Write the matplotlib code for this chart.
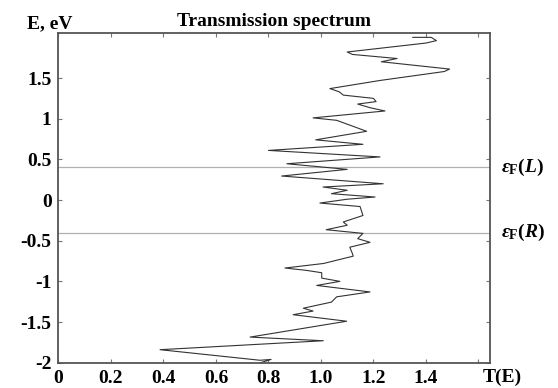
import numpy as np
import matplotlib.pyplot as plt

plt.rcParams['font.family'] = 'Liberation Serif'
plt.rcParams['font.weight'] = 'bold'
plt.rcParams['mathtext.fontset'] = 'custom'
plt.rcParams['mathtext.rm'] = 'Liberation Serif:bold'
plt.rcParams['mathtext.it'] = 'Liberation Serif:italic:bold'

# energy (eV) and transmission, top to bottom
energy = [2.00, 2.00, 1.96, 1.93, 1.82, 1.79, 1.74, 1.70, 1.61, 1.58, 1.47,
          1.37, 1.33, 1.29, 1.25, 1.21, 1.18, 1.135, 1.095, 1.01, 0.98,
          0.845, 0.74, 0.685, 0.61, 0.53, 0.446, 0.377, 0.295, 0.20, 0.16,
          0.12, 0.078, 0.037, 0.01, -0.037, -0.08, -0.19, -0.27, -0.31,
          -0.365, -0.41, -0.475, -0.52, -0.58, -0.66, -0.69, -0.72, -0.78,
          -0.836, -0.865, -0.894, -0.96, -1.0, -1.05, -1.13, -1.19, -1.255,
          -1.33, -1.365, -1.41, -1.49, -1.685, -1.73, -1.84, -1.97, -1.96,
          -2.0]
trans = [1.35, 1.42, 1.44, 1.40, 1.10, 1.12, 1.29, 1.23, 1.49, 1.47, 1.225,
         1.034, 1.07, 1.085, 1.20, 1.21, 1.14, 1.187, 1.244, 0.97, 1.06,
         1.174, 0.98, 1.16, 0.80, 1.225, 0.87, 1.10, 0.85, 1.237, 1.008,
         1.10, 1.04, 1.206, 1.10, 0.996, 1.149, 1.16, 1.085, 1.10,
         1.02, 1.16, 1.14, 1.187, 1.11, 1.12, 1.123, 1.085, 1.01,
         0.863, 0.945, 1.003, 1.003, 1.072, 0.984, 1.187, 1.06, 1.04,
         0.933, 0.97, 0.894, 1.098, 0.73, 1.009, 0.387, 0.768, 0.81,
         0.77]

fermi = [0.4, -0.4]
fermi_labels = [r'$\varepsilon_{\mathrm{F}}(L)$', r'$\varepsilon_{\mathrm{F}}(R)$']

xticks = [0, 0.2, 0.4, 0.6, 0.8, 1.0, 1.2, 1.4, 1.6]
xticklabels = ['0', '0.2', '0.4', '0.6', '0.8', '1.0', '1.2', '1.4', '']
yticks = [-2, -1.5, -1, -0.5, 0, 0.5, 1, 1.5]
yticklabels = ['-2', '-1.5', '-1', '-0.5', '0', '0.5', '1', '1.5']

fig = plt.figure(figsize=(5.58, 3.88), dpi=100)
ax = fig.add_axes([0.1048, 0.0652, 0.7733, 0.849])

for e in fermi:
    ax.axhline(e, color='#b0b0b0', lw=0.9)
ax.plot(trans, energy, color='#333333', lw=0.8)

ax.set_xlim(0, 1.644)
ax.set_ylim(-2, 2.05)
ax.set_xticks(xticks)
ax.set_xticklabels(xticklabels)
ax.set_yticks(yticks)
ax.set_yticklabels(yticklabels)
ax.tick_params(direction='in', top=True, right=True, length=3,
               color='#777777', labelsize=14, pad=5)
for s in ax.spines.values():
    s.set_color('#555555')
    s.set_linewidth(1.3)

ax.set_title('Transmission spectrum', fontsize=14, fontweight='bold', pad=5)
fig.text(27 / 558, 1 - 28 / 388, 'E, eV', fontsize=14, fontweight='bold')
ax.text(0.984, -0.058, 'T(E)', transform=ax.transAxes, fontsize=14,
        fontweight='bold', ha='left', va='baseline')
for e, lab in zip(fermi, fermi_labels):
    ax.text(1.025, e, lab, transform=ax.get_yaxis_transform(), fontsize=14,
            ha='left', va='center')

fig.savefig('out.png', dpi=100)
